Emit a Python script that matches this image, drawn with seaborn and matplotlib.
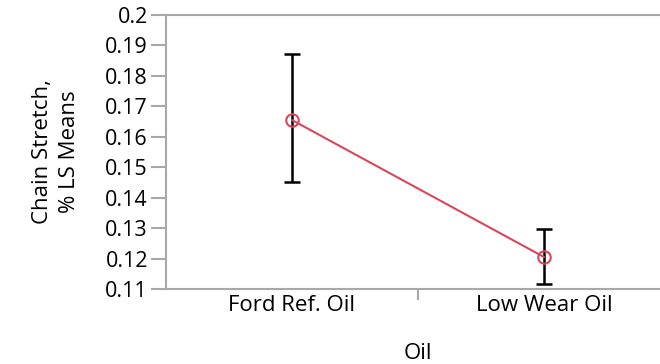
import pandas as pd
import seaborn as sns
import matplotlib.pyplot as plt

oils = ["Ford Ref. Oil", "Low Wear Oil"]
ls_means = [0.1655, 0.1205]
lower = [0.1453, 0.1117]
upper = [0.1873, 0.1297]

df = pd.DataFrame({"Oil": oils, "mean": ls_means})

sns.set_style("white")
plt.rcParams['font.family'] = ['Open Sans', 'DejaVu Sans']
plt.rcParams['text.color'] = 'black'
plt.rcParams['xtick.color'] = 'black'
plt.rcParams['ytick.color'] = 'black'
plt.rcParams['axes.labelcolor'] = 'black'

fig = plt.figure(figsize=(6.6, 3.64), dpi=100)
ax = fig.add_axes([166 / 660, 1 - 289 / 364, 504 / 660, 274 / 364])

# error bars first, then the means line on top
ax.errorbar(range(len(oils)), ls_means,
            yerr=[[m - l for m, l in zip(ls_means, lower)],
                  [u - m for m, u in zip(ls_means, upper)]],
            fmt="none", ecolor="black", elinewidth=1.8, capsize=6, capthick=1.8, zorder=2)
sns.lineplot(data=df, x="Oil", y="mean", ax=ax, color="#d9475a", linewidth=1.5,
             marker="o", markersize=9, markerfacecolor="none", markeredgecolor="#d9475a",
             markeredgewidth=1.5, zorder=3)

ax.set_xlim(-0.5, 1.5)
ax.set_ylim(0.11, 0.2)
ax.set_yticks([0.11 + 0.01 * i for i in range(10)])
ax.set_yticklabels(["0.11", "0.12", "0.13", "0.14", "0.15", "0.16", "0.17", "0.18", "0.19", "0.2"])
ax.set_xticks([0, 1])
ax.set_xticklabels(oils)
ax.set_xticks([0.5], minor=True)

ax.tick_params(axis="y", which="major", length=11, width=1.5, color="#a8a8a8",
               labelsize=15.5, pad=2, direction="out", left=True, labelcolor="black")
ax.tick_params(axis="x", which="major", length=0, labelsize=16, pad=4, labelcolor="black")
ax.tick_params(axis="x", which="minor", length=8, width=1.5, color="#a8a8a8",
               direction="out", bottom=True)

for side in ["left", "bottom", "top"]:
    ax.spines[side].set_color("#a8a8a8")
    ax.spines[side].set_linewidth(1.5)
ax.spines["right"].set_visible(False)

ax.set_xlabel("Oil", fontsize=16, labelpad=20, color="black")
ax.set_ylabel("Chain Stretch,\n% LS Means", fontsize=16, labelpad=18, linespacing=1.4,
              color="black")

fig.savefig("out.png", dpi=100)
